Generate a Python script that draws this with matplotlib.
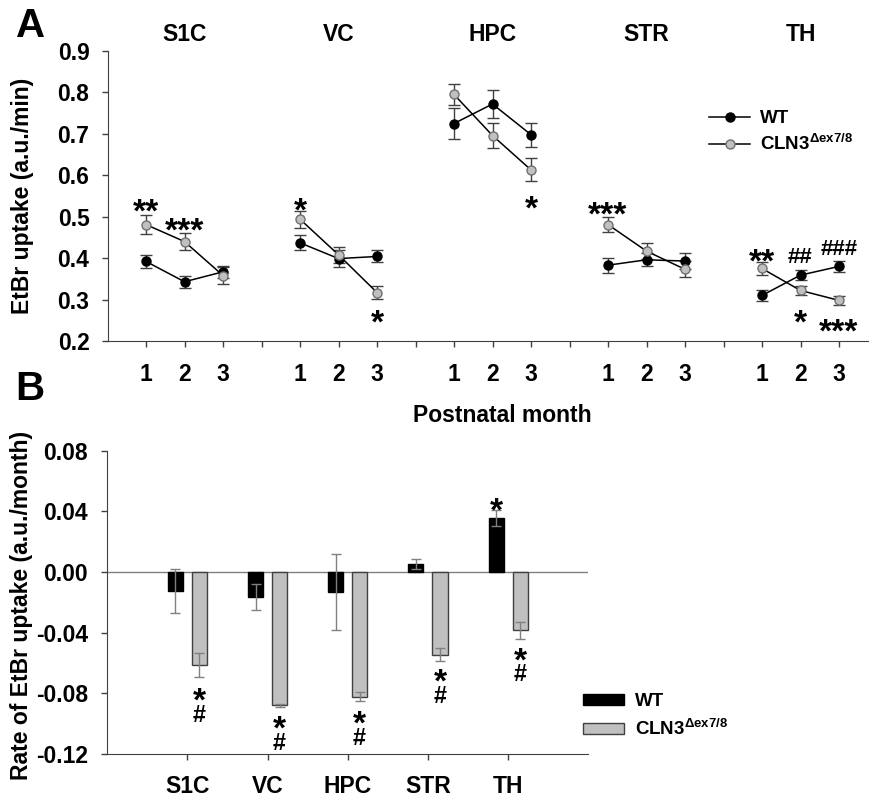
import numpy as np
import matplotlib
matplotlib.use('Agg')
import matplotlib.pyplot as plt
from matplotlib.lines import Line2D
from matplotlib.patches import Patch

plt.rcParams['font.family'] = ['Liberation Sans', 'DejaVu Sans']
plt.rcParams['font.weight'] = 'bold'
plt.rcParams['mathtext.fontset'] = 'custom'
plt.rcParams['mathtext.rm'] = 'Liberation Sans:bold'
plt.rcParams['mathtext.bf'] = 'Liberation Sans:bold'

#==============================================================================#
#Dados
#==============================================================================#
regions = ['S1C', 'VC', 'HPC', 'STR', 'TH']
months = [1, 2, 3]

# painel A: captação de EtBr (a.u./min), uma linha por região, meses 1..3
wt_uptake = [[0.392, 0.343, 0.367],
             [0.437, 0.399, 0.404],
             [0.725, 0.772, 0.698],
             [0.383, 0.396, 0.393],
             [0.310, 0.359, 0.380]]
wt_uptake_err = [[0.016, 0.014, 0.015],
                 [0.018, 0.020, 0.0145],
                 [0.037, 0.033, 0.029],
                 [0.0185, 0.016, 0.0185],
                 [0.014, 0.0125, 0.0137]]
cln_uptake = [[0.481, 0.440, 0.358],
              [0.494, 0.408, 0.317],
              [0.795, 0.696, 0.613],
              [0.481, 0.417, 0.373],
              [0.375, 0.322, 0.298]]
cln_uptake_err = [[0.0225, 0.021, 0.020],
                  [0.0205, 0.020, 0.015],
                  [0.025, 0.031, 0.028],
                  [0.019, 0.019, 0.019],
                  [0.015, 0.011, 0.0115]]

# painel B: taxa de captação (a.u./month)
wt_rate = [-0.0128, -0.0163, -0.0132, 0.0053, 0.0356]
wt_rate_err = [0.0145, 0.0086, 0.0252, 0.0033, 0.0053]
cln_rate = [-0.0614, -0.0880, -0.0821, -0.0544, -0.0385]
cln_rate_err = [0.0080, 0.0010, 0.0029, 0.0043, 0.0055]

# marcas de significância: (região, mês, texto, y)
sig_a = [(0, 1, '**', 0.535), (0, 2, '***', 0.488),
         (1, 1, '*', 0.538), (1, 3, '*', 0.267),
         (2, 3, '*', 0.542),
         (3, 1, '***', 0.528),
         (4, 1, '**', 0.414), (4, 2, '##', 0.407), (4, 3, '###', 0.428),
         (4, 2, '*', 0.267), (4, 3, '***', 0.246)]
# (região, grupo 0=WT 1=CLN3, com '#' embaixo?, y do *)
sig_b = [(0, 1, True, -0.0788),
         (1, 1, True, -0.0975),
         (2, 1, True, -0.0942),
         (3, 1, True, -0.0665),
         (4, 0, False, 0.0466),
         (4, 1, True, -0.0524)]

cln_label = r'CLN3$^{\Delta\mathrm{ex7/8}}$'

def mark(ax, x, y, s):
    #centraliza o glifo (o * fica alto na caixa da fonte)
    if '*' in s:
        size, frac = 24, 0.58
    else:
        size, frac = 16, 0.36
    ax.annotate(s, (x, y), xytext=(0, -frac * size), textcoords='offset points',
                ha='center', va='baseline', fontsize=size, fontweight='bold',
                annotation_clip=False)

def stack(ax, x, y):
    #'*' em cima e '#' menor embaixo num só texto; y é o centro do '*'
    size = 24
    ax.annotate('*\n' + r'$^{\#}$', (x, y), xytext=(0, 0.15 * size), textcoords='offset points',
                ha='center', va='top', fontsize=size, fontweight='bold',
                linespacing=0.6, multialignment='center', annotation_clip=False)

W, H = 869, 797
fig = plt.figure(figsize=(W / 100, H / 100), dpi=100)

#==============================================================================#
#Painel A
#==============================================================================#
ax = fig.add_axes([107.5 / W, (H - 341) / H, (W - 107.5) / W, 290 / H])
for g in range(len(regions)):
    xs = [4 * g + m for m in months]
    ax.errorbar(xs, wt_uptake[g], yerr=wt_uptake_err[g], fmt='none',
                ecolor='#404040', elinewidth=1, capsize=4.5, capthick=1, zorder=2)
    ax.errorbar(xs, cln_uptake[g], yerr=cln_uptake_err[g], fmt='none',
                ecolor='#404040', elinewidth=1, capsize=4.5, capthick=1, zorder=2)
    ax.plot(xs, wt_uptake[g], '-o', color='black', lw=1.1, ms=6.5,
            mfc='black', mec='black', zorder=3)
    ax.plot(xs, cln_uptake[g], '-o', color='black', lw=1.1, ms=6.5,
            mfc='#c0c0c0', mec='#707070', zorder=3)
    ax.text(4 * g + 2, 1.058, regions[g], transform=ax.get_xaxis_transform(),
            ha='center', va='center', fontsize=16.5, fontweight='bold')

for g, m, s, y in sig_a:
    mark(ax, 4 * g + m, y, s)

ax.set_xlim(0, (W - 107.5) / 38.5)
ax.set_ylim(0.2, 0.9)
ax.set_xticks(range(1, 20))
ax.set_xticklabels(['' if i % 4 == 0 else str(i % 4) for i in range(1, 20)])
ax.set_yticks(np.arange(0.2, 0.91, 0.1))
ax.set_yticklabels(['%.1f' % v for v in np.arange(0.2, 0.91, 0.1)])
ax.tick_params(axis='x', direction='out', length=4, width=1, pad=12, labelsize=16.5, colors='#404040', labelcolor='black')
ax.tick_params(axis='y', direction='out', length=4, width=1, pad=9, labelsize=16.5, colors='#404040', labelcolor='black')
for lb in ax.get_xticklabels() + ax.get_yticklabels():
    lb.set_fontweight('bold')
for sp in ['top', 'right']:
    ax.spines[sp].set_visible(False)
for sp in ['left', 'bottom']:
    ax.spines[sp].set_color('#404040')

handles = [Line2D([], [], color='black', lw=1.1, marker='o', ms=6.5, mfc='black', mec='black'),
           Line2D([], [], color='black', lw=1.1, marker='o', ms=6.5, mfc='#c0c0c0', mec='#707070')]
ax.legend(handles, ['WT', cln_label], loc='upper left', bbox_to_anchor=(709 / W, 1 - 110 / H),
          bbox_transform=fig.transFigure, frameon=False,
          handlelength=2.2, handletextpad=0.5, labelspacing=0.35, borderpad=0, borderaxespad=0,
          prop={'weight': 'bold', 'size': 13.5})

#==============================================================================#
#Painel B
#==============================================================================#
bx = fig.add_axes([107.3 / W, (H - 754) / H, 481 / W, (754 - 450.7) / H])
pos = np.arange(1, len(regions) + 1)
off, bw = 0.15, 0.1875
bx.axhline(0, color='#808080', lw=1, zorder=1)
bx.bar(pos - off, wt_rate, bw, color='black', edgecolor='black', lw=1, zorder=2)
bx.bar(pos + off, cln_rate, bw, color='#c0c0c0', edgecolor='#404040', lw=1, zorder=2)
bx.errorbar(pos - off, wt_rate, yerr=wt_rate_err, fmt='none', ecolor='#808080',
            elinewidth=1, capsize=3.6, capthick=1, zorder=3)
bx.errorbar(pos + off, cln_rate, yerr=cln_rate_err, fmt='none', ecolor='#808080',
            elinewidth=1, capsize=3.6, capthick=1, zorder=3)
for g, k, hashed, y in sig_b:
    x = pos[g] + (off if k else -off)
    if hashed:
        stack(bx, x, y)
    else:
        mark(bx, x, y, '*')

bx.set_xlim(0, 6)
bx.set_ylim(-0.12, 0.08)
bx.set_xticks(pos)
bx.set_xticklabels(regions)
bx.set_yticks(np.arange(-0.12, 0.081, 0.04))
bx.set_yticklabels(['%.2f' % (v + 0.0) for v in np.round(np.arange(-0.12, 0.081, 0.04), 2)])
bx.tick_params(axis='x', direction='out', length=4, width=1, pad=11, labelsize=16.5, colors='#404040', labelcolor='black')
bx.tick_params(axis='y', direction='out', length=4, width=1, pad=10, labelsize=16.5, colors='#404040', labelcolor='black')
for lb in bx.get_xticklabels() + bx.get_yticklabels():
    lb.set_fontweight('bold')
for sp in ['top', 'right']:
    bx.spines[sp].set_visible(False)
for sp in ['left', 'bottom']:
    bx.spines[sp].set_color('#404040')

bhandles = [Patch(facecolor='black', edgecolor='black'),
            Patch(facecolor='#c0c0c0', edgecolor='#404040')]
bx.legend(bhandles, ['WT', cln_label], loc='upper left', bbox_to_anchor=(583 / W, 1 - 693 / H),
          bbox_transform=fig.transFigure, frameon=False,
          handlelength=2.2, handleheight=0.55, handletextpad=0.55, labelspacing=0.45,
          borderpad=0, borderaxespad=0, prop={'weight': 'bold', 'size': 13.5})

#==============================================================================#
#Textos
#==============================================================================#
fig.text(31 / W, 1 - 26 / H, 'A', fontsize=29, fontweight='bold', ha='center', va='center')
fig.text(30 / W, 1 - 389 / H, 'B', fontsize=29, fontweight='bold', ha='center', va='center')
fig.text(23 / W, 1 - 196 / H, 'EtBr uptake (a.u./min)', rotation=90, fontsize=16.5,
         fontweight='bold', ha='center', va='center')
fig.text(22 / W, 1 - 605 / H, 'Rate of EtBr uptake (a.u./month)', rotation=90, fontsize=16.5,
         fontweight='bold', ha='center', va='center')
fig.text(502 / W, 1 - 415 / H, 'Postnatal month', fontsize=16.5, fontweight='bold',
         ha='center', va='center')

fig.savefig('out.png', dpi=100)
